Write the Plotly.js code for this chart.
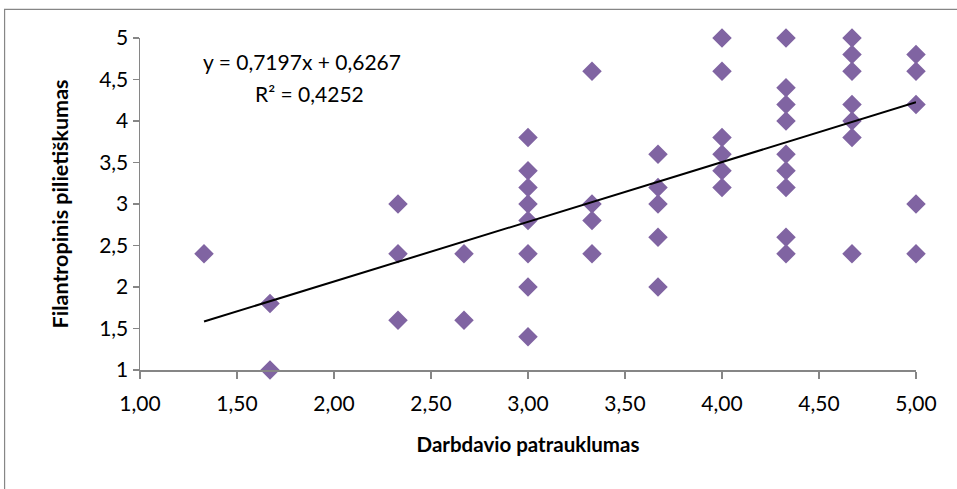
<!DOCTYPE html>
<html>
<head>
<meta charset="utf-8">
<script src="https://cdn.plot.ly/plotly-3.0.1.min.js"></script>
<style>
html,body{margin:0;padding:0;background:#fff;}
#chart{width:957px;height:489px;}
</style>
</head>
<body>
<div id="chart"></div>
<script>
// Data (x: Darbdavio patrauklumas, y: Filantropinis pilietiškumas)
const xVals = [
  1.33,
  1.67, 1.67,
  2.33, 2.33, 2.33,
  2.67, 2.67,
  3.00, 3.00, 3.00, 3.00, 3.00, 3.00, 3.00, 3.00,
  3.33, 3.33, 3.33, 3.33,
  3.67, 3.67, 3.67, 3.67, 3.67,
  4.00, 4.00, 4.00, 4.00, 4.00, 4.00,
  4.33, 4.33, 4.33, 4.33, 4.33, 4.33, 4.33, 4.33, 4.33,
  4.67, 4.67, 4.67, 4.67, 4.67, 4.67, 4.67,
  5.00, 5.00, 5.00, 5.00, 5.00
];
const yVals = [
  2.4,
  1.8, 1.0,
  3.0, 2.4, 1.6,
  2.4, 1.6,
  3.8, 3.4, 3.2, 3.0, 2.8, 2.4, 2.0, 1.4,
  4.6, 3.0, 2.8, 2.4,
  3.6, 3.2, 3.0, 2.6, 2.0,
  5.0, 4.6, 3.8, 3.6, 3.4, 3.2,
  5.0, 4.4, 4.2, 4.0, 3.6, 3.4, 3.2, 2.6, 2.4,
  5.0, 4.8, 4.6, 4.2, 4.0, 3.8, 2.4,
  4.8, 4.6, 4.2, 3.0, 2.4
];
// Trendline as printed on the chart
const slope = 0.7197;
const intercept = 0.6267;
const r2 = 0.4252;
const xTickVals = [1, 1.5, 2, 2.5, 3, 3.5, 4, 4.5, 5];
const yTickVals = [1, 1.5, 2, 2.5, 3, 3.5, 4, 4.5, 5];
const xTitle = 'Darbdavio patrauklumas';
const yTitle = 'Filantropinis pilietiškumas';

const xMin = Math.min(...xVals), xMax = Math.max(...xVals);
const trendX = [xMin, xMax];
const trendY = trendX.map(v => slope * v + intercept);

const fmt = v => v.toFixed(4).replace('.', ',');
const eqLine = 'y = ' + fmt(slope) + 'x + ' + fmt(intercept);
const r2Line = 'R² = ' + fmt(r2);

const font = 'Lato, "Open Sans", "DejaVu Sans", sans-serif';
const axisColor = '#868686';

const traces = [
  {
    x: xVals, y: yVals, type: 'scatter', mode: 'markers',
    marker: {symbol: 'diamond', size: 15, color: '#8064A2'},
    cliponaxis: false, hoverinfo: 'x+y'
  },
  {
    x: trendX, y: trendY, type: 'scatter', mode: 'lines',
    line: {color: '#000000', width: 2}, cliponaxis: false
  }
];

const layout = {
  width: 957, height: 489,
  margin: {l: 140, r: 41, t: 38, b: 119},
  paper_bgcolor: '#ffffff', plot_bgcolor: '#ffffff',
  showlegend: false,
  separators: ', ',
  font: {family: font, size: 21, color: '#000000'},
  xaxis: {
    range: [1, 5], tickvals: xTickVals, tickformat: '.2f',
    showgrid: false, zeroline: false,
    showline: true, linecolor: axisColor, linewidth: 1.5,
    ticks: 'outside', ticklen: 7, tickcolor: axisColor, tickwidth: 1.5,
    ticklabelstandoff: 7,
    tickfont: {family: font, size: 21, color: '#000'},
    title: {text: '<b>' + xTitle + '</b>', font: {family: font, size: 20.5, color: '#000'}, standoff: 24}
  },
  yaxis: {
    range: [1, 5], tickvals: yTickVals, tickformat: '~g',
    showgrid: false, zeroline: false,
    showline: true, linecolor: axisColor, linewidth: 1.5,
    ticks: 'outside', ticklen: 6, tickcolor: axisColor, tickwidth: 1.5,
    tickfont: {family: font, size: 21, color: '#000'},
    title: {text: '<b>' + yTitle + '</b>', font: {family: font, size: 21.5, color: '#000'}, standoff: 24}
  },
  annotations: [
    {
      xref: 'paper', yref: 'paper', x: 0.209, y: 0.928,
      xanchor: 'center', yanchor: 'middle',
      text: eqLine, showarrow: false,
      font: {family: font, size: 21, color: '#000'}
    },
    {
      xref: 'paper', yref: 'paper', x: 0.219, y: 0.834,
      xanchor: 'center', yanchor: 'middle',
      text: r2Line, showarrow: false,
      font: {family: font, size: 21, color: '#000'}
    }
  ],
  shapes: [
    {
      type: 'rect', xref: 'paper', yref: 'paper',
      x0: -0.1745, x1: 1.06, y0: -0.38, y1: 1.086,
      line: {color: axisColor, width: 1.2}, fillcolor: 'rgba(0,0,0,0)', layer: 'below'
    }
  ]
};

Plotly.newPlot('chart', traces, layout, {displayModeBar: false, staticPlot: true});
</script>
</body>
</html>
